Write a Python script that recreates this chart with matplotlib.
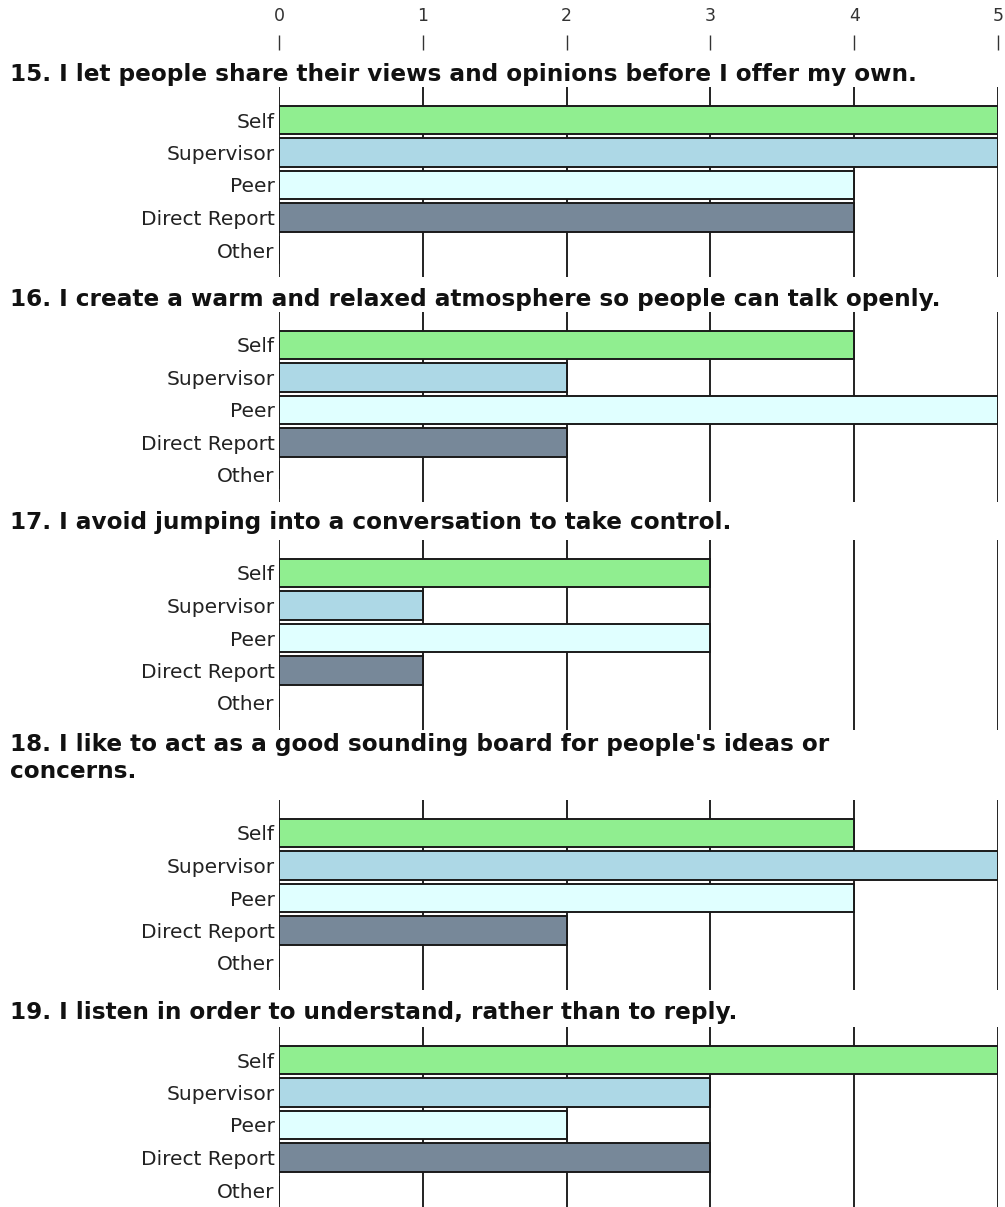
import numpy as np
import matplotlib
matplotlib.use("Agg")
import matplotlib.pyplot as plt

# survey data
raters = ["Self", "Supervisor", "Peer", "Direct Report", "Other"]
rater_colors = ["#90EE90", "#ADD8E6", "#E0FFFF", "#778899", "#FFFFFF"]

questions = [
    "15. I let people share their views and opinions before I offer my own.",
    "16. I create a warm and relaxed atmosphere so people can talk openly.",
    "17. I avoid jumping into a conversation to take control.",
    "18. I like to act as a good sounding board for people's ideas or\nconcerns.",
    "19. I listen in order to understand, rather than to reply.",
]
q15 = [5, 5, 4, 4, 0]
q16 = [4, 2, 5, 2, 0]
q17 = [3, 1, 3, 1, 0]
q18 = [4, 5, 4, 2, 0]
q19 = [5, 3, 2, 3, 0]
scores = [q15, q16, q17, q18, q19]
scale_ticks = [0, 1, 2, 3, 4, 5]

W, H = 1005, 1207
fig = plt.figure(figsize=(W / 100, H / 100), dpi=100)

x0, x1 = 279, 998           # pixel span of 0..5
left = x0 / W
width = (x1 - x0) / W

# layout in pixels (top of grid lines for each block, title centre)
panel_tops = [87, 312, 540, 800, 1027]
title_y = [74, 299, 523, 758, 1013]
panel_h = 190

# top axis with the scale numbers
axt = fig.add_axes([left, 1 - 50 / H, width, 0.0001])
axt.set_xlim(0, 5)
axt.set_ylim(0, 1)
axt.xaxis.tick_top()
axt.set_xticks(scale_ticks)
axt.set_xticklabels([str(t) for t in scale_ticks], fontsize=12.5, color="#222222")
axt.tick_params(axis="x", direction="out", length=11, width=1, pad=7, colors="#333333")
axt.set_yticks([])
for s in axt.spines.values():
    s.set_visible(False)

ypos = np.arange(len(raters))
for i in range(len(questions)):
    top = panel_tops[i]
    ax = fig.add_axes([left, 1 - (top + panel_h) / H, width, panel_h / H])
    ax.set_xlim(0, 5)
    ax.set_ylim(4 + 27 / 32.5, -33 / 32.5)
    for t in scale_ticks:
        ax.axvline(t, color="#222222", lw=1.4, zorder=0)
    ax.barh(ypos, scores[i], height=0.87, color=rater_colors,
            edgecolor="#1a1a1a", linewidth=1.4, zorder=2)
    ax.set_yticks(ypos)
    ax.set_yticklabels(raters, fontsize=14.5, color="#222222")
    ax.tick_params(axis="y", length=0, pad=3)
    ax.set_xticks([])
    for s in ax.spines.values():
        s.set_visible(False)

    fig.text(10 / W, 1 - title_y[i] / H, questions[i], fontsize=16.7,
             fontweight="bold", ha="left", va="center", color="#111111",
             linespacing=1.25)

fig.savefig("out.png", dpi=100, facecolor="white")
